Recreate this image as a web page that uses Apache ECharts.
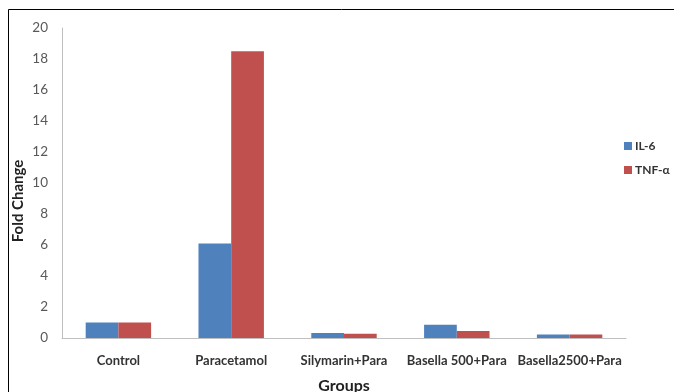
<!DOCTYPE html>
<html>
<head>
<meta charset="utf-8">
<script src="https://cdn.jsdelivr.net/npm/echarts@6/dist/echarts.min.js"></script>
<style>
	html, body { margin: 0; padding: 0; background: #fff; }
	#chart { width: 674px; height: 392px; }
</style>
</head>
<body>
<div id="chart"></div>
<script>
	const groups = ["Control", "Paracetamol", "Silymarin+Para", "Basella 500+Para", "Basella2500+Para"];
	const il6 = [1.0, 6.1, 0.32, 0.85, 0.22];
	const tnfa = [1.0, 18.5, 0.28, 0.45, 0.22];

	const font = "Lato, 'Open Sans', sans-serif";

	var chart = echarts.init(document.getElementById("chart"), null, {
		renderer: "canvas",
	});

	const options = {
		animation: false,
		textStyle: { fontFamily: font },
		graphic: [
			{
				// frame of the pasted figure, right and bottom edges are cut off
				type: "rect",
				shape: { x: 8.5, y: 9.5, width: 700, height: 400 },
				style: { fill: "none", stroke: "#000", lineWidth: 1 },
				silent: true,
			},
			{
				// y axis title, sits a bit lower than the plot centre
				type: "text",
				x: 18,
				y: 201,
				rotation: Math.PI / 2,
				style: {
					text: "Fold Change",
					align: "center",
					verticalAlign: "middle",
					fontFamily: font,
					fontWeight: "bold",
					fontSize: 15,
					fill: "#222",
				},
				silent: true,
			},
		],
		grid: {
			left: 62,
			right: 48,
			top: 28,
			bottom: 54,
			outerBoundsMode: "none",
			containLabel: false,
		},
		legend: {
			orient: "vertical",
			left: 624,
			top: 139,
			padding: 0,
			itemWidth: 8,
			itemHeight: 8,
			itemGap: 10,
			icon: "rect",
			textStyle: {
				fontFamily: font,
				fontWeight: "bold",
				fontSize: 12,
				lineHeight: 14,
				color: "#333",
				padding: [0, 0, 0, -2],
			},
		},
		xAxis: {
			type: "category",
			data: groups,
			name: "Groups",
			nameLocation: "middle",
			nameGap: 40,
			nameTextStyle: {
				fontFamily: font,
				fontWeight: "bold",
				fontSize: 16,
				color: "#222",
			},
			axisLine: { lineStyle: { color: "#bfbfbf", width: 1 } },
			axisTick: { show: false },
			axisLabel: {
				interval: 0,
				margin: 16,
				fontFamily: font,
				fontWeight: "bold",
				fontSize: 13,
				color: "#333",
			},
		},
		yAxis: {
			type: "value",
			min: 0,
			max: 20,
			interval: 2,
			axisLine: { show: true, lineStyle: { color: "#bfbfbf", width: 1 } },
			axisTick: { show: false },
			splitLine: { show: false },
			axisLabel: {
				margin: 14,
				fontFamily: font,
				fontSize: 13.5,
				color: "#595959",
			},
		},
		series: [
			{
				name: "IL-6",
				type: "bar",
				data: il6,
				barGap: "0%",
				barCategoryGap: "42%",
				itemStyle: { color: "#4F81BD" },
			},
			{
				name: "TNF-α",
				type: "bar",
				data: tnfa,
				barGap: "0%",
				barCategoryGap: "42%",
				itemStyle: { color: "#C0504D" },
			},
		],
	};

	chart.setOption(options);
</script>
</body>
</html>
